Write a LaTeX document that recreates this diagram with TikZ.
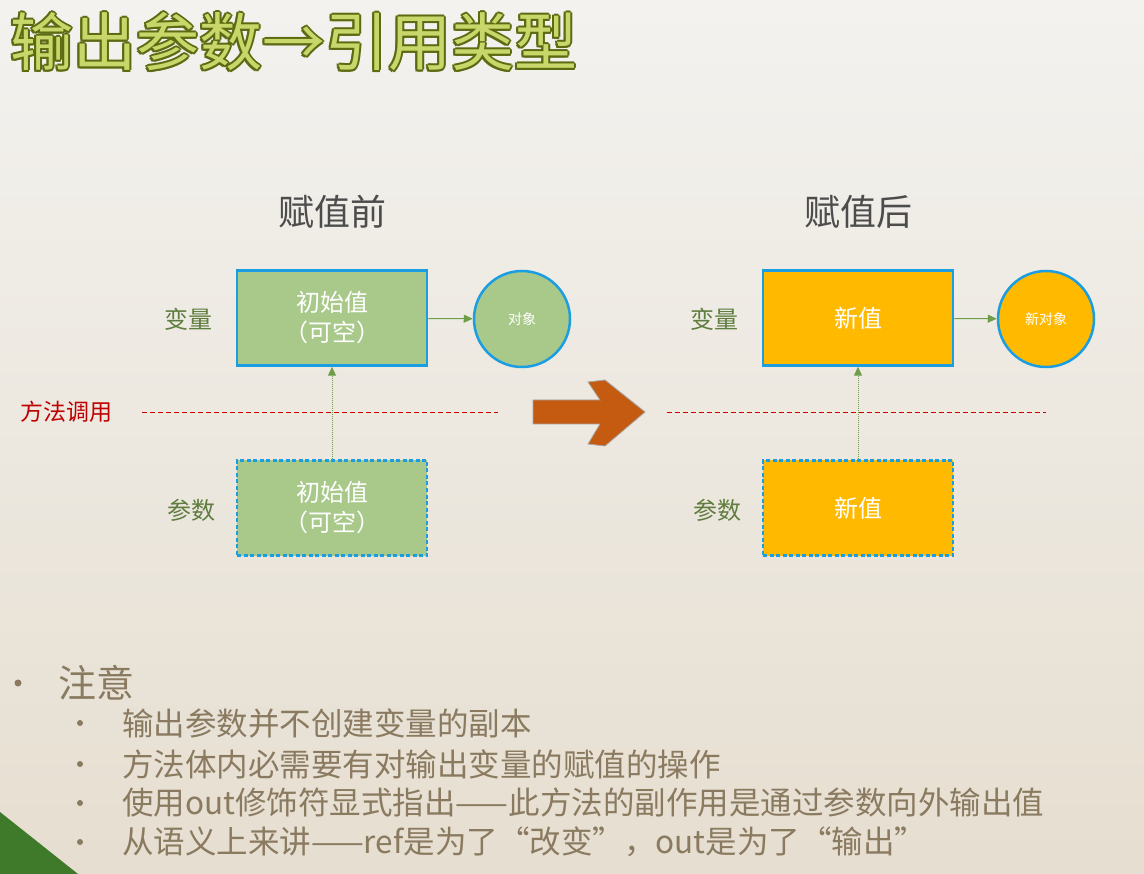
\documentclass[tikz,border=0pt]{standalone}
\usepackage{fontspec}
\setmainfont{Noto Sans CJK SC}
\newfontfamily\cjkb{Noto Sans CJK SC}[BoldFont=*]
\usetikzlibrary{arrows.meta}
\definecolor{boxg}{HTML}{A9C98B}
\definecolor{boxo}{HTML}{FFBA00}
\definecolor{bord}{HTML}{1B9DE2}
\definecolor{arrg}{HTML}{6E9E48}
\definecolor{lblg}{HTML}{5F7D3E}
\definecolor{txtb}{HTML}{8A7A60}
\definecolor{tfill}{HTML}{C8D66A}
\definecolor{tline}{HTML}{5C6B12}
\definecolor{bgtop}{HTML}{F3F2EF}
\definecolor{bgbot}{HTML}{E6DED0}
\definecolor{corner}{HTML}{3E7A2A}
\definecolor{bigarr}{HTML}{C55A11}
\tikzset{
  val/.style={minimum width=190pt,minimum height=95pt,line width=2.5pt,draw=bord,text=white,font=\fontsize{24}{30}\selectfont,align=center},
  obj/.style={circle,minimum size=96pt,line width=2.5pt,draw=bord,text=white,font=\fontsize{14}{16}\selectfont},
  lbl/.style={text=lblg,font=\fontsize{24}{28}\selectfont},
  hd/.style={text=black!70,font=\fontsize{36}{40}\selectfont},
  conn/.style={draw=arrg,line width=1pt,-{Triangle[length=9pt,width=8pt]}},
  bul/.style={anchor=west,text=txtb,font=\fontsize{31.5}{34}\selectfont},
  ttl/.style={anchor=west,inner sep=0pt,font=\cjkb\bfseries\fontsize{63}{66}\selectfont},
}
\begin{document}
\begin{tikzpicture}[x=1pt,y=-1pt]
\shade[top color=bgtop,bottom color=bgbot] (0,0) rectangle (1144,874);
\useasboundingbox (0,0) rectangle (1144,874);
\fill[corner] (0,812) -- (78,874) -- (0,874) -- cycle;
% title
\foreach \dx/\dy in {-2/0,2/0,0/-2,0/2,-1.5/-1.5,1.5/1.5,-1.5/1.5,1.5/-1.5}
  \node[ttl,text=tline] at (10+\dx,42+\dy) {输出参数→引用类型};
\node[ttl,text=tfill] (title) at (10,42) {输出参数→引用类型};
% headings
\node[hd] (h1) at (332,212) {赋值前};
\node[hd] (h2) at (858,212) {赋值后};
% left
\node[val,fill=boxg] (v1) at (332,318) {初始值\\（可空）};
\node[obj,fill=boxg] (o1) at (522,319) {对象};
\node[val,fill=boxg,dashed,dash pattern=on 4pt off 2.5pt] (p1) at (332,508) {初始值\\（可空）};
\node[lbl] (l1) at (188,319) {变量};
\node[lbl] (l2) at (191,510) {参数};
\draw[conn] (v1) -- (o1);
\draw[conn,densely dotted] (p1) -- (v1);
% right
\node[val,fill=boxo] (v2) at (858,318) {新值};
\node[obj,fill=boxo] (o2) at (1046,319) {新对象};
\node[val,fill=boxo,dashed,dash pattern=on 4pt off 2.5pt] (p2) at (858,508) {新值};
\node[lbl] (l3) at (714,319) {变量};
\node[lbl] (l4) at (717,510) {参数};
\draw[conn] (v2) -- (o2);
\draw[conn,densely dotted] (p2) -- (v2);
% method call line
\node[text=red!75!black,font=\fontsize{23}{26}\selectfont] (mc) at (66,412) {方法调用};
\coordinate (a1) at (142,412); \coordinate (a2) at (498,412);
\coordinate (b1) at (667,412); \coordinate (b2) at (1046,412);
\draw[red!80!black,dash pattern=on 5pt off 3pt,line width=0.9pt] (a1) -- (a2);
\draw[red!80!black,dash pattern=on 5pt off 3pt,line width=0.9pt] (b1) -- (b2);
% big arrow
\filldraw[fill=bigarr,draw=gray!70,line width=0.8pt]
 (533,400) -- (600,400) -- (588,382) -- (605,380) -- (645,412) -- (605,446) -- (588,444) -- (600,424) -- (533,424) -- cycle;
% bullets
\fill[txtb] (18,683) circle (3.5pt);
\node[bul,font=\fontsize{38}{40}\selectfont,inner sep=0pt] (n0) at (58,683) {注意};
\foreach \y in {723,764,803,842} \fill[txtb] (80,\y) circle (3pt);
\node[bul,inner sep=0pt] (n1) at (122,723) {输出参数并不创建变量的副本};
\node[bul,inner sep=0pt] (n2) at (122,764) {方法体内必需要有对输出变量的赋值的操作};
\node[bul,inner sep=0pt] (n3) at (122,803) {使用out修饰符显式指出——此方法的副作用是通过参数向外输出值};
\node[bul,inner sep=0pt] (n4) at (122,842) {从语义上来讲——ref是为了“改变”，out是为了“输出”};
\end{tikzpicture}
\end{document}
